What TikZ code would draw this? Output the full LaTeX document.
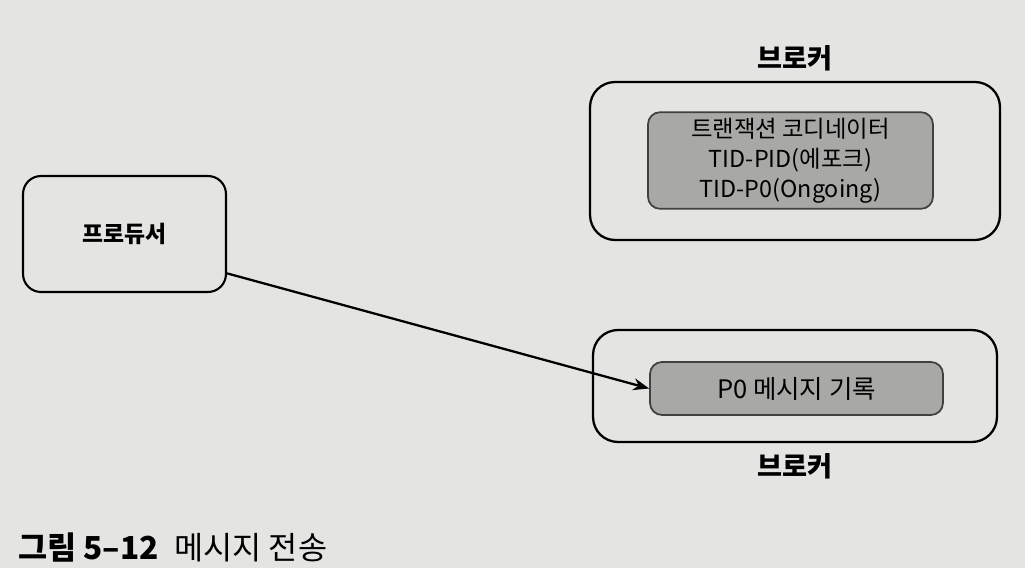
\documentclass[tikz,border=0pt]{standalone}
\usepackage{fontspec}
\setmainfont{Noto Sans CJK KR}
\usepackage{tikz}
\usetikzlibrary{positioning, arrows.meta}

\definecolor{paper}{RGB}{228,228,226}
\definecolor{boxgray}{RGB}{168,168,166}

\tikzset{
  broker/.style={draw=black, line width=1.3pt, rounded corners=0.5cm},
  inner/.style={draw=black!75, fill=boxgray, line width=1pt, rounded corners=0.24cm, align=center, font=\fontsize{13.3}{17}\selectfont},
  client/.style={draw=black, line width=1.2pt, rounded corners=0.36cm, font=\bfseries\fontsize{13}{15}\selectfont},
  brokerlabel/.style={font=\bfseries\fontsize{15.5}{18}\selectfont}
}

\begin{document}
\begin{tikzpicture}[x=0.02cm, y=-0.02cm]
                      \fill[paper] (0,0) rectangle (1025,568);
                      \useasboundingbox (0,0) rectangle (1025,568);
                      \node[broker, minimum width=8.2cm, minimum height=3.16cm] (broker1) at (795,161) {};
                      \node[inner, minimum width=5.7cm, minimum height=1.9cm] (coord) at (790.5,160.5) {트랜잭션 코디네이터\\TID-PID(에포크)\\TID-P0(Ongoing)};
                      \node[brokerlabel, above=0.08cm of broker1] (label1) {브로커};
                      \node[client, minimum width=4.06cm, minimum height=2.32cm] (producer) at (124.5,234) {프로듀서};
                      \node[broker, minimum width=8.08cm, minimum height=2.24cm] (broker2) at (795,386) {};
                      \node[inner, minimum width=5.86cm, minimum height=1.06cm, font=\fontsize{14.5}{17}\selectfont] (record) at (796.5,388.5) {P0 메시지 기록};
                      \node[brokerlabel, below=0.08cm of broker2] (label2) {브로커};
                      \draw[-{Stealth[length=0.32cm, width=0.24cm]}, line width=1.3pt] (producer.-21) -- (record.west);
                      \node[anchor=west, font=\fontsize{18}{21}\selectfont] (caption) at (12,548) {\textbf{그림 5–12}\hspace{0.5em}메시지 전송};
                  \end{tikzpicture}
\end{document}
